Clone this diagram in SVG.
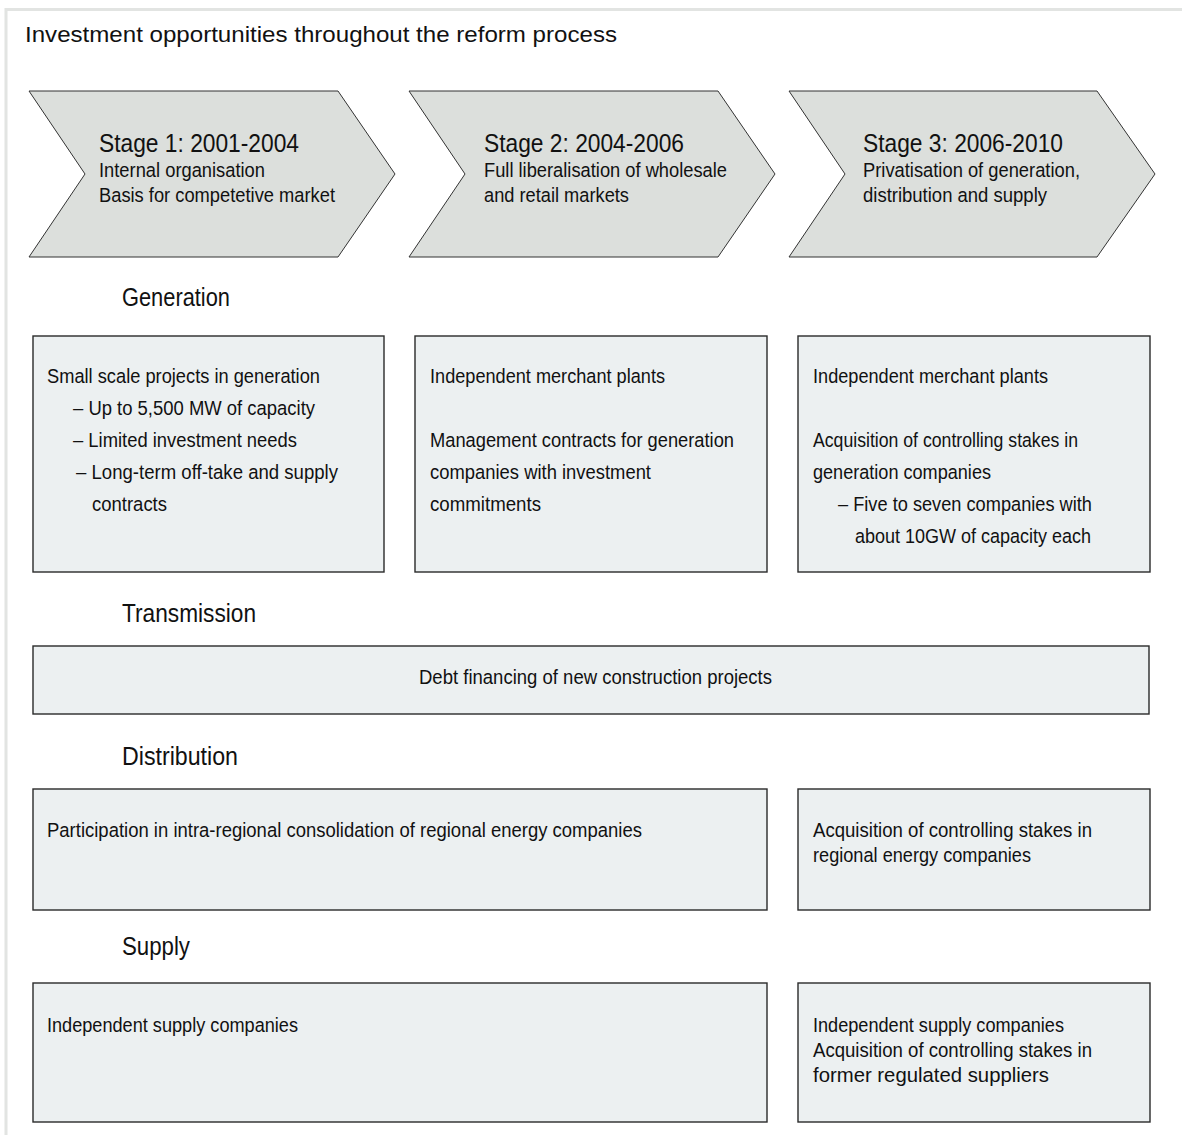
<svg xmlns="http://www.w3.org/2000/svg" width="1182" height="1135" viewBox="0 0 1182 1135">
<style>
text{font-family:"Liberation Sans",Arial,Helvetica,sans-serif;fill:#111;}
.title{font-size:22.5px;}
.stage{font-size:26px;}
.sub{font-size:20.5px;}
.head{font-size:25px;}
.bx{font-size:20.5px;}
.chev{fill:#dcdfdc;stroke:#333;stroke-width:1;}
.box{fill:#ecf0f1;stroke:#2a2a2a;stroke-width:1.4;}
.frame{stroke:#e2e4e2;stroke-width:3;fill:none;}
</style>
<path class="frame" d="M6 1135 V9.5 H1182"/>
<text class="title" x="25" y="42" textLength="592" lengthAdjust="spacingAndGlyphs">Investment opportunities throughout the reform process</text>

<g id="stage1">
<polygon class="chev" points="29,91 338,91 395,174 338,257 29,257 85,174"/>
<text class="stage" x="99" y="152" textLength="200" lengthAdjust="spacingAndGlyphs">Stage 1: 2001-2004</text>
<text class="sub" x="99" y="177" textLength="166" lengthAdjust="spacingAndGlyphs">Internal organisation</text>
<text class="sub" x="99" y="202" textLength="236" lengthAdjust="spacingAndGlyphs">Basis for competetive market</text>
</g>
<g id="stage2">
<polygon class="chev" points="409,91 718,91 775,174 718,257 409,257 465,174"/>
<text class="stage" x="484" y="152" textLength="200" lengthAdjust="spacingAndGlyphs">Stage 2: 2004-2006</text>
<text class="sub" x="484" y="177" textLength="243" lengthAdjust="spacingAndGlyphs">Full liberalisation of wholesale</text>
<text class="sub" x="484" y="202" textLength="145" lengthAdjust="spacingAndGlyphs">and retail markets</text>
</g>
<g id="stage3">
<polygon class="chev" points="789,91 1097,91 1155,174 1097,257 789,257 845,174"/>
<text class="stage" x="863" y="152" textLength="200" lengthAdjust="spacingAndGlyphs">Stage 3: 2006-2010</text>
<text class="sub" x="863" y="177" textLength="217" lengthAdjust="spacingAndGlyphs">Privatisation of generation,</text>
<text class="sub" x="863" y="202" textLength="184" lengthAdjust="spacingAndGlyphs">distribution and supply</text>
</g>

<g id="heading-generation"><text class="head" x="122" y="306" textLength="108" lengthAdjust="spacingAndGlyphs">Generation</text></g>
<g id="heading-transmission"><text class="head" x="122" y="622" textLength="134" lengthAdjust="spacingAndGlyphs">Transmission</text></g>
<g id="heading-distribution"><text class="head" x="122" y="765" textLength="116" lengthAdjust="spacingAndGlyphs">Distribution</text></g>
<g id="heading-supply"><text class="head" x="122" y="955" textLength="68" lengthAdjust="spacingAndGlyphs">Supply</text></g>

<g id="gen1">
<rect class="box" x="33" y="336" width="351" height="236"/>
<text class="bx" x="47" y="383" textLength="273" lengthAdjust="spacingAndGlyphs">Small scale projects in generation</text>
<text class="bx" x="73" y="415" textLength="242" lengthAdjust="spacingAndGlyphs">– Up to 5,500 MW of capacity</text>
<text class="bx" x="73" y="447" textLength="224" lengthAdjust="spacingAndGlyphs">– Limited investment needs</text>
<text class="bx" x="76" y="479" textLength="262" lengthAdjust="spacingAndGlyphs">– Long-term off-take and supply</text>
<text class="bx" x="92" y="511" textLength="75" lengthAdjust="spacingAndGlyphs">contracts</text>
</g>
<g id="gen2">
<rect class="box" x="415" y="336" width="352" height="236"/>
<text class="bx" x="430" y="383" textLength="235" lengthAdjust="spacingAndGlyphs">Independent merchant plants</text>
<text class="bx" x="430" y="447" textLength="304" lengthAdjust="spacingAndGlyphs">Management contracts for generation</text>
<text class="bx" x="430" y="479" textLength="221" lengthAdjust="spacingAndGlyphs">companies with investment</text>
<text class="bx" x="430" y="511" textLength="111" lengthAdjust="spacingAndGlyphs">commitments</text>
</g>
<g id="gen3">
<rect class="box" x="798" y="336" width="352" height="236"/>
<text class="bx" x="813" y="383" textLength="235" lengthAdjust="spacingAndGlyphs">Independent merchant plants</text>
<text class="bx" x="813" y="447" textLength="265" lengthAdjust="spacingAndGlyphs">Acquisition of controlling stakes in</text>
<text class="bx" x="813" y="479" textLength="178" lengthAdjust="spacingAndGlyphs">generation companies</text>
<text class="bx" x="838" y="511" textLength="254" lengthAdjust="spacingAndGlyphs">– Five to seven companies with</text>
<text class="bx" x="855" y="543" textLength="236" lengthAdjust="spacingAndGlyphs">about 10GW of capacity each</text>
</g>
<g id="trans1">
<rect class="box" x="33" y="646" width="1116" height="68"/>
<text class="bx" x="419" y="684" textLength="353" lengthAdjust="spacingAndGlyphs">Debt financing of new construction projects</text>
</g>
<g id="dist1">
<rect class="box" x="33" y="789" width="734" height="121"/>
<text class="bx" x="47" y="837" textLength="595" lengthAdjust="spacingAndGlyphs">Participation in intra-regional consolidation of regional energy companies</text>
</g>
<g id="dist2">
<rect class="box" x="798" y="789" width="352" height="121"/>
<text class="bx" x="813" y="837" textLength="279" lengthAdjust="spacingAndGlyphs">Acquisition of controlling stakes in</text>
<text class="bx" x="813" y="862" textLength="218" lengthAdjust="spacingAndGlyphs">regional energy companies</text>
</g>
<g id="supply1">
<rect class="box" x="33" y="983" width="734" height="139"/>
<text class="bx" x="47" y="1032" textLength="251" lengthAdjust="spacingAndGlyphs">Independent supply companies</text>
</g>
<g id="supply2">
<rect class="box" x="798" y="983" width="352" height="139"/>
<text class="bx" x="813" y="1032" textLength="251" lengthAdjust="spacingAndGlyphs">Independent supply companies</text>
<text class="bx" x="813" y="1057" textLength="279" lengthAdjust="spacingAndGlyphs">Acquisition of controlling stakes in</text>
<text class="bx" x="813" y="1082" textLength="236" lengthAdjust="spacingAndGlyphs">former regulated suppliers</text>
</g>
<g id="connectors"></g>
</svg>
